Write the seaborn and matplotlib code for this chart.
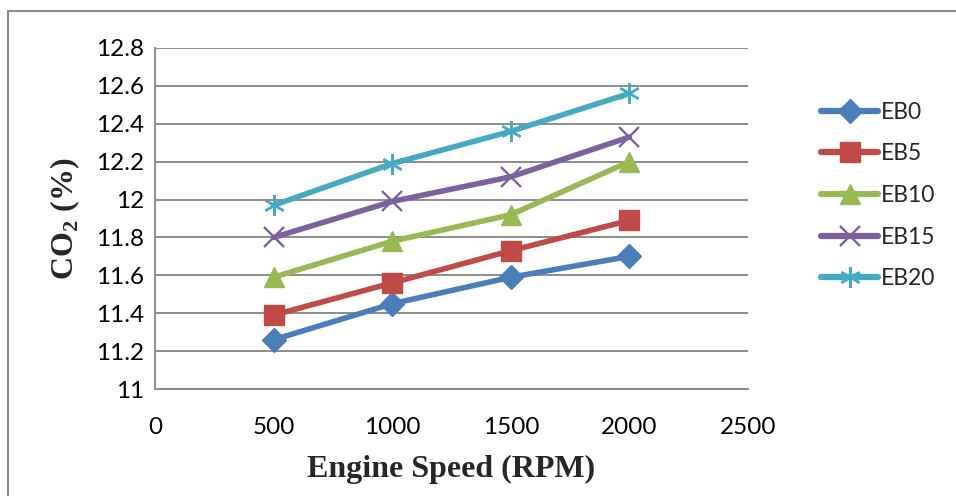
import matplotlib
matplotlib.use("Agg")
import matplotlib.pyplot as plt
import seaborn as sns
import pandas as pd
from matplotlib.patches import Rectangle
from matplotlib.lines import Line2D

speed = [500, 1000, 1500, 2000]
eb0 = [11.26, 11.45, 11.59, 11.70]
eb5 = [11.39, 11.56, 11.73, 11.89]
eb10 = [11.59, 11.78, 11.92, 12.20]
eb15 = [11.80, 11.99, 12.12, 12.33]
eb20 = [11.97, 12.19, 12.36, 12.56]
series_names = ["EB0", "EB5", "EB10", "EB15", "EB20"]
x_ticks = [0, 500, 1000, 1500, 2000, 2500]
y_ticks = [11, 11.2, 11.4, 11.6, 11.8, 12, 12.2, 12.4, 12.6, 12.8]
y_tick_labels = ["11", "11.2", "11.4", "11.6", "11.8", "12", "12.2", "12.4", "12.6", "12.8"]

rows = []
for name, vals in zip(series_names, [eb0, eb5, eb10, eb15, eb20]):
    for s, v in zip(speed, vals):
        rows.append({"Speed": s, "CO2": v, "Fuel": name})
df = pd.DataFrame(rows)

sns.set_theme(style="white")
plt.rcParams["mathtext.fontset"] = "custom"
plt.rcParams["mathtext.rm"] = "Liberation Serif:bold"
plt.rcParams["mathtext.bf"] = "Liberation Serif:bold"

colors = ["#4A7EBB", "#BE4B48", "#98B954", "#7D60A0", "#46AAC5"]
markers = ["D", "s", "^", "x", (6, 2, 0)]
sizes = [12, 14, 14, 14, 15]

fig = plt.figure(figsize=(9.56, 4.96), dpi=100)
fig.patches.append(Rectangle((8 / 956, -0.2), 1.2, 1 - 11 / 496 + 0.2,
                             transform=fig.transFigure, fill=False,
                             edgecolor="#8c8c8c", linewidth=1.5, zorder=0))
ax = fig.add_axes([155 / 956, 1 - 389 / 496, 593 / 956, 341 / 496])

for name, c, m, ms in zip(series_names, colors, markers, sizes):
    sub = df[df["Fuel"] == name]
    line_art = m in ("x", (6, 2, 0))
    sns.lineplot(data=sub, x="Speed", y="CO2", color=c, marker=m,
                 markersize=ms, markeredgecolor=c,
                 markeredgewidth=1.7 if line_art else 1,
                 linewidth=4, ax=ax, legend=False)

ax.set_xlim(0, 2500)
ax.set_ylim(11, 12.8)
ax.set_xticks(x_ticks)
ax.set_yticks(y_ticks)
ax.set_yticklabels(y_tick_labels)
ax.grid(axis="y", color="#8c8c8c", linewidth=1.4)
ax.grid(axis="x", visible=False)
ax.set_axisbelow(True)
for side in ["top", "right"]:
    ax.spines[side].set_visible(False)
for side in ["left", "bottom"]:
    ax.spines[side].set_color("#8c8c8c")
    ax.spines[side].set_linewidth(1.4)
ax.tick_params(axis="both", length=0, labelsize=17.5, colors="black")
for lbl in ax.get_xticklabels() + ax.get_yticklabels():
    lbl.set_fontfamily("Lato")
ax.tick_params(axis="x", pad=20)
ax.tick_params(axis="y", pad=8)

ax.set_xlabel("Engine Speed (RPM)", fontfamily="Liberation Serif",
              fontweight="bold", fontsize=23, labelpad=12)
ax.set_ylabel(r"CO$_\mathbf{2}$ (%)", fontfamily="Liberation Serif",
              fontweight="bold", fontsize=23, labelpad=10)

handles = []
for c, m, ms in zip(colors, markers, sizes):
    mew = 1.7 if m in ("x", (6, 2, 0)) else 1
    handles.append(Line2D([], [], color=c, marker=m, markersize=ms,
                          markeredgecolor=c, markeredgewidth=mew,
                          linewidth=4.5, solid_capstyle="round"))
fig.legend(handles, series_names, loc="upper left",
           bbox_to_anchor=(814 / 956, 1 - 95 / 496), frameon=False,
           handlelength=2.5, handletextpad=0.1, labelspacing=0.9,
           borderaxespad=0, borderpad=0.3,
           prop={"family": "Lato", "size": 16.5})

fig.savefig("out.png", dpi=100)
